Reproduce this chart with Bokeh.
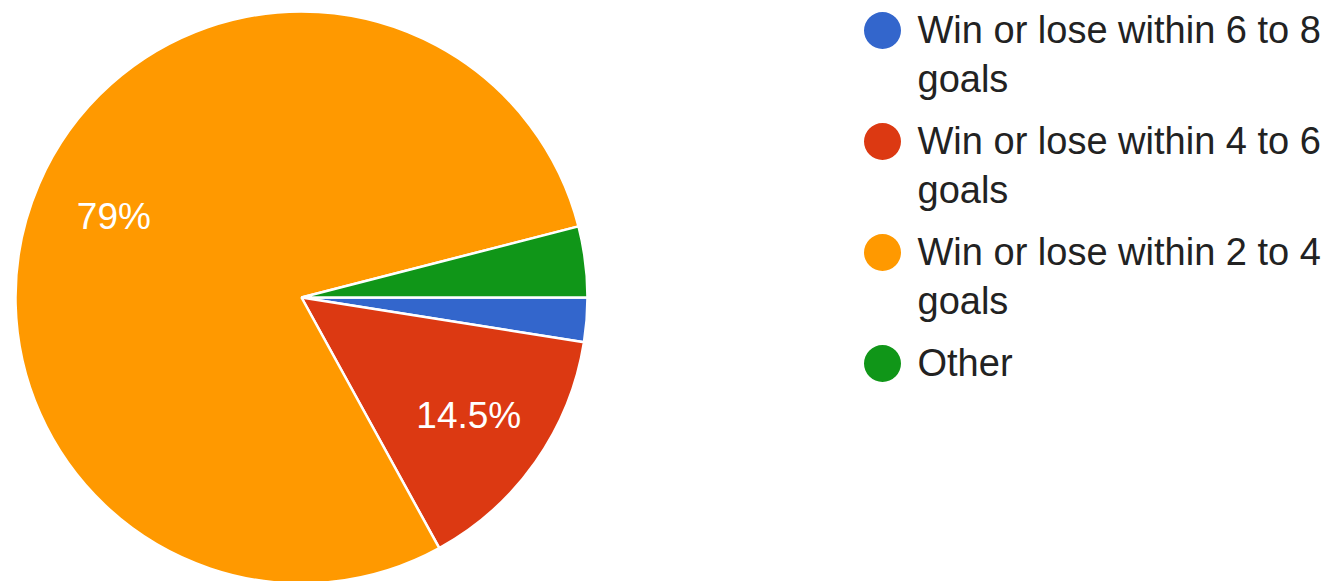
import math
from bokeh.plotting import figure
from bokeh.models import Range1d, ColumnDataSource
from bokeh.core.properties import value
from bokeh.embed import file_html
from bokeh.resources import INLINE

# ---- data ----
categories = [
    "Win or lose within 6 to 8 goals",
    "Win or lose within 4 to 6 goals",
    "Win or lose within 2 to 4 goals",
    "Other",
]
percents = [2.5, 14.5, 79.0, 4.0]
colors = ["#3366cc", "#dc3912", "#ff9900", "#109618"]
shown_labels = ["", "14.5%", "79%", ""]

# ---- layout ----
W, H = 1326, 581
cx, cy, R = 301, H - 297, 286
FONT = "Liberation Sans"

p = figure(width=W, height=H, output_backend="svg", toolbar_location=None,
           x_range=Range1d(0, W), y_range=Range1d(0, H), min_border=0)
p.axis.visible = False
p.grid.visible = False
p.outline_line_color = None
p.background_fill_color = "white"
p.border_fill_color = "white"

# wedges, clockwise from 3 o'clock
starts, ends, lx, ly = [], [], [], []
cum = 0.0
for pc in percents:
    a0 = -cum / 100 * 2 * math.pi
    cum += pc
    a1 = -cum / 100 * 2 * math.pi
    starts.append(a0)
    ends.append(a1)
    mid = (a0 + a1) / 2
    lx.append(cx + 0.715 * R * math.cos(mid))
    ly.append(cy + 0.715 * R * math.sin(mid))

src = ColumnDataSource(dict(x=[cx] * 4, y=[cy] * 4, start=starts, end=ends,
                            color=colors))
p.wedge(x="x", y="y", radius=R, start_angle="start", end_angle="end",
        direction="clock", fill_color="color", line_color="white",
        line_width=2.5, source=src)

lsrc = ColumnDataSource(dict(x=lx, y=ly, t=shown_labels))
p.text(x="x", y="y", text="t", source=lsrc, text_color="white",
       text_font=value(FONT), text_font_size="37px", text_align="center",
       text_baseline="middle")

# legend
leg_x_dot, leg_x_text = 882, 917
dot0 = H - 30
step = 111
line_gap = 49
for i, (cat, col) in enumerate(zip(categories, colors)):
    yc = dot0 - step * i
    p.scatter([leg_x_dot], [yc], size=37, color=col, line_color=None)
    words = cat.split(" ")
    lines = [" ".join(words[:-1]), words[-1]] if len(words) > 3 else [cat]
    for j, ln in enumerate(lines):
        p.text([leg_x_text], [yc + 1 - line_gap * j], text=[ln],
               text_color="#222222", text_font=value(FONT),
               text_font_size="38px", text_baseline="middle",
               text_align="left")

open("out.html", "w").write(file_html(p, INLINE))
